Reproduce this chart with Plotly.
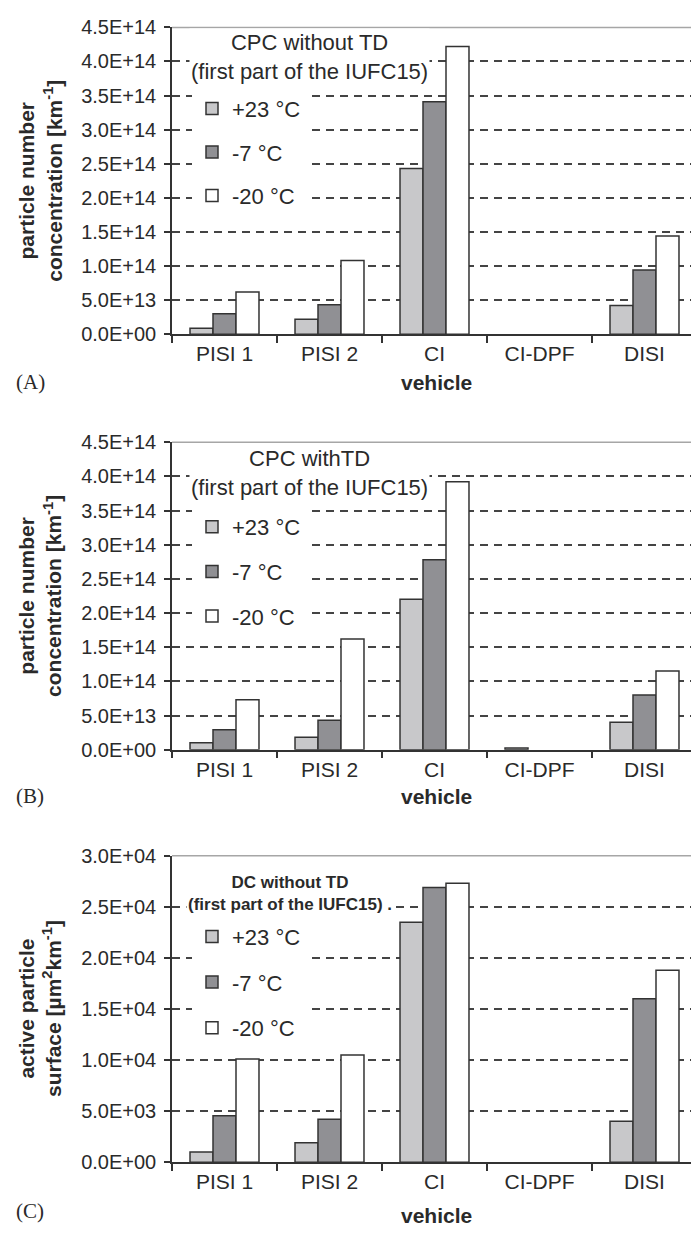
import plotly.graph_objects as go

# ---------------- data ----------------
vehicles = ["PISI 1", "PISI 2", "CI", "CI-DPF", "DISI"]
temps = ["+23 °C", "-7 °C", "-20 °C"]

# Panel A: CPC without TD  [km^-1]
a_p23 = [0.86e13, 2.2e13, 2.43e14, 0.0, 4.2e13]
a_m7 = [3.0e13, 4.3e13, 3.41e14, 0.0, 9.4e13]
a_m20 = [6.2e13, 1.08e14, 4.22e14, 0.0, 1.44e14]

# Panel B: CPC with TD  [km^-1]
b_p23 = [1.0e13, 1.8e13, 2.2e14, 2.5e12, 4.0e13]
b_m7 = [2.9e13, 4.3e13, 2.78e14, 0.0, 8.0e13]
b_m20 = [7.3e13, 1.62e14, 3.92e14, 0.0, 1.15e14]

# Panel C: DC without TD  [um^2 km^-1]
c_p23 = [1.0e3, 1.9e3, 2.35e4, 0.0, 4.0e3]
c_m7 = [4.55e3, 4.2e3, 2.69e4, 0.0, 1.6e4]
c_m20 = [1.01e4, 1.05e4, 2.73e4, 0.0, 1.88e4]

pn_tickvals = [0, 5e13, 1e14, 1.5e14, 2e14, 2.5e14, 3e14, 3.5e14, 4e14, 4.5e14]
pn_ticktext = ["0.0E+00", "5.0E+13", "1.0E+14", "1.5E+14", "2.0E+14",
               "2.5E+14", "3.0E+14", "3.5E+14", "4.0E+14", "4.5E+14"]
as_tickvals = [0, 5e3, 1e4, 1.5e4, 2e4, 2.5e4, 3e4]
as_ticktext = ["0.0E+00", "5.0E+03", "1.0E+04", "1.5E+04", "2.0E+04",
               "2.5E+04", "3.0E+04"]

panels = [
    dict(vals=[a_p23, a_m7, a_m20], ymax=4.5e14, tv=pn_tickvals, tt=pn_ticktext,
         title="CPC without TD<br>(first part of the IUFC15)", tsize=22,
         ytitle="<b>particle number<br>concentration [km<sup>-1</sup>]</b>", label="(A)"),
    dict(vals=[b_p23, b_m7, b_m20], ymax=4.5e14, tv=pn_tickvals, tt=pn_ticktext,
         title="CPC withTD<br>(first part of the IUFC15)", tsize=22,
         ytitle="<b>particle number<br>concentration [km<sup>-1</sup>]</b>", label="(B)"),
    dict(vals=[c_p23, c_m7, c_m20], ymax=3.0e4, tv=as_tickvals, tt=as_ticktext,
         title="<b>DC without TD<br>(first part of the IUFC15) .</b>", tsize=17,
         ytitle="<b>active particle<br>surface [µm<sup>2</sup>km<sup>-1</sup>]</b>", label="(C)"),
]

# ---------------- layout geometry (pixels) ----------------
W, H = 691, 1241
L = 172
plot_w = W - L
top_px = [16.7, 439, 860]
zero_px = [329, 752, 1172]
title_px = [(309, 47), (309, 470), (290, 898)]
legend_top_px = [78, 504, 921]
legend_gap = [12, 13, 14]
label_px = [(378, 378), (799, 800), (1222, 1226)]

fillcolors = ["#c8c8ca", "#909094", "#ffffff"]
FONT = "Liberation Sans, Arial, sans-serif"
TXT = "#2a2a2a"


def py(p):
    return 1 - p / H


def px(p):
    return (p - L) / plot_w


fig = go.Figure()
annotations = []
shapes = []
layout_extra = {}

for i, pnl in enumerate(panels):
    sfx = "" if i == 0 else str(i + 1)
    xa = "x" + sfx
    ya = "y" + sfx
    leg = "legend" + sfx
    for j, t in enumerate(temps):
        vals = pnl["vals"][j]
        fig.add_trace(go.Bar(
            x=vehicles, y=vals, name=t,
            xaxis=xa, yaxis=ya, legend=leg, legendgroup=f"p{i}t{j}",
            marker=dict(color=fillcolors[j],
                        line=dict(color="#333333",
                                  width=[1.5 if v > 0 else 0 for v in vals])),
        ))
    layout_extra["xaxis" + sfx] = dict(
        type="category", range=[-0.5, 4.5 - 6 / 105], anchor=ya,
        showline=True, linecolor="#333333", linewidth=1.5,
        ticks="outside", tickson="boundaries", ticklen=7, tickcolor="#333333", tickwidth=1.5,
        tickfont=dict(family=FONT, size=21, color=TXT), showgrid=False, zeroline=False,
        fixedrange=True,
    )
    layout_extra["yaxis" + sfx] = dict(
        domain=[py(zero_px[i]), py(top_px[i])], anchor=xa,
        range=[0, pnl["ymax"]], tickvals=pnl["tv"], ticktext=pnl["tt"],
        showline=True, linecolor="#333333", linewidth=1.5,
        ticks="outside", ticklen=6, tickcolor="#333333", tickwidth=1.5,
        ticklabelstandoff=4,
        tickfont=dict(family=FONT, size=20, color=TXT),
        showgrid=True, gridcolor="#444444", gridwidth=1.5, griddash="8px,6px",
        zeroline=False,
    )
    layout_extra[leg] = dict(
        x=px(192), y=py(legend_top_px[i]), xanchor="left", yanchor="top",
        bgcolor="white", font=dict(family=FONT, size=22, color=TXT),
        tracegroupgap=legend_gap[i], itemclick=False, itemdoubleclick=False,
    )
    # top border of plot area
    shapes.append(dict(type="line", xref=xa + " domain", yref=ya + " domain",
                       x0=0, x1=1, y0=1, y1=1, line=dict(color="#a6a6a6", width=1.5),
                       layer="above"))
    # panel title
    annotations.append(dict(
        text=pnl["title"], xref="paper", yref="paper",
        x=px(title_px[i][0]), y=py(title_px[i][1]), xanchor="center", yanchor="middle",
        showarrow=False, align="center", bgcolor="white",
        font=dict(family=FONT, size=pnl["tsize"], color=TXT),
    ))
    # y-axis title
    annotations.append(dict(
        text=pnl["ytitle"], xref="paper", yref="paper",
        x=px(40), y=py((top_px[i] + zero_px[i]) / 2), xanchor="center", yanchor="middle",
        textangle=-90, showarrow=False, align="center",
        font=dict(family=FONT, size=21, color=TXT),
    ))
    # x-axis title
    annotations.append(dict(
        text="<b>vehicle</b>", xref="paper", yref="paper",
        x=px(436), y=py(label_px[i][1]), xanchor="center", yanchor="middle",
        showarrow=False, font=dict(family=FONT, size=21, color=TXT),
    ))
    # panel label
    annotations.append(dict(
        text=pnl["label"], xref="paper", yref="paper",
        x=px(30), y=py(label_px[i][0]), xanchor="center", yanchor="middle",
        showarrow=False, font=dict(family="Liberation Serif, Times New Roman, serif", size=21, color=TXT),
    ))

fig.update_layout(
    width=W, height=H,
    margin=dict(l=L, r=0, t=0, b=0),
    paper_bgcolor="white", plot_bgcolor="white",
    barmode="group", bargap=0.343, bargroupgap=0,
    showlegend=True,
    annotations=annotations, shapes=shapes,
    **layout_extra,
)

fig.write_html("out.html")
